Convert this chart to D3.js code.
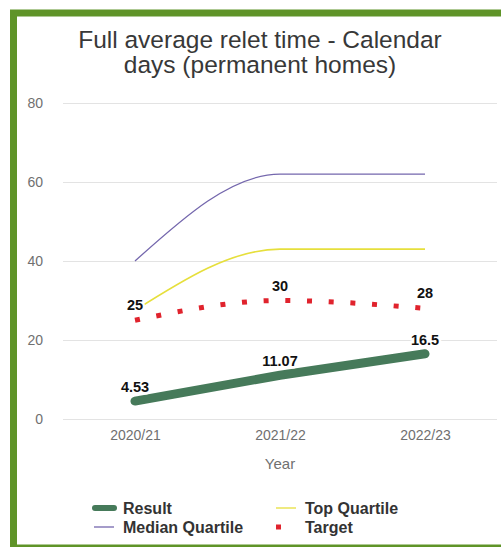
<!DOCTYPE html>
<html>
<head>
<meta charset="utf-8">
<script src="https://cdn.jsdelivr.net/npm/d3@7"></script>
<style>
  html, body { margin: 0; padding: 0; background: #fff; }
  svg { display: block; font-family: "Liberation Sans", Arial, sans-serif; }
</style>
</head>
<body>
<svg id="chart" width="501" height="547"></svg>
<script>
// Financial years on the x axis
const years = ["2020/21", "2021/22", "2022/23"];
// Series values (calendar days)
const result = [4.53, 11.07, 16.5];
const topQuartile = [27.5, 43, 43];
const medianQuartile = [40, 62, 62];
const target = [25, 30, 28];
// Y axis ticks
const yTicks = [0, 20, 40, 60, 80];

const titleLines = ["Full average relet time - Calendar", "days (permanent homes)"];

const colors = {
  frame: "#5f9428",
  result: "#467a5a",
  top: "#e6df3c",
  median: "#7467ad",
  target: "#e0232d",
  grid: "#e3e3e3",
  axisText: "#707070"
};

const svg = d3.select("#chart");

// Outer green frame (runs past the right edge of the page)
svg.append("rect")
  .attr("x", 13.5).attr("y", 13).attr("width", 520).attr("height", 535)
  .attr("fill", "#fff").attr("stroke", colors.frame).attr("stroke-width", 7);

// Title
svg.append("g").selectAll("text").data(titleLines).join("text")
  .attr("x", 260).attr("y", (d, i) => 48 + i * 25)
  .attr("text-anchor", "middle")
  .attr("font-size", 24.5).attr("fill", "#383838")
  .text(d => d);

const x = d3.scalePoint().domain(years).range([135, 425]);
const y = d3.scaleLinear().domain([0, 80]).range([419, 103]);

// Gridlines and y tick labels
const yAxis = d3.axisLeft(y).tickValues(yTicks).tickSize(-434).tickPadding(20);
const gy = svg.append("g").attr("transform", "translate(63,0)").call(yAxis);
gy.select(".domain").remove();
gy.selectAll(".tick line").attr("stroke", colors.grid).attr("stroke-width", 1);
gy.selectAll(".tick text").attr("fill", colors.axisText).attr("font-size", 14)
  .attr("font-family", "Liberation Sans, Arial, sans-serif");

// X axis labels
const xAxis = d3.axisBottom(x).tickSize(0).tickPadding(0);
const gx = svg.append("g").attr("transform", "translate(0,425)").call(xAxis);
gx.select(".domain").remove();
gx.selectAll(".tick text").attr("fill", colors.axisText).attr("font-size", 14)
  .attr("dy", "0.71em").attr("y", 5)
  .attr("font-family", "Liberation Sans, Arial, sans-serif");

svg.append("text").attr("x", 280).attr("y", 469).attr("text-anchor", "middle")
  .attr("font-size", 15).attr("fill", colors.axisText).text("Year");

const curve = d3.line().x((d, i) => x(years[i])).y(d => y(d)).curve(d3.curveMonotoneX);
const straight = d3.line().x((d, i) => x(years[i])).y(d => y(d));

// Median quartile
svg.append("path").attr("d", curve(medianQuartile))
  .attr("fill", "none").attr("stroke", colors.median).attr("stroke-width", 1.3);
// Top quartile
svg.append("path").attr("d", curve(topQuartile))
  .attr("fill", "none").attr("stroke", colors.top).attr("stroke-width", 1.6);
// Target (square dots)
svg.append("path").attr("d", curve(target))
  .attr("fill", "none").attr("stroke", colors.target).attr("stroke-width", 5)
  .attr("stroke-dasharray", "5 16.7");
// Result
svg.append("path").attr("d", straight(result))
  .attr("fill", "none").attr("stroke", colors.result).attr("stroke-width", 9)
  .attr("stroke-linecap", "round").attr("stroke-linejoin", "round");

// Value labels with a white halo behind them
function labels(values, offset) {
  svg.append("g").selectAll("text").data(values).join("text")
    .attr("x", (d, i) => x(years[i]))
    .attr("y", d => y(d) - offset)
    .attr("text-anchor", "middle")
    .attr("font-size", 14.5).attr("font-weight", "bold").attr("fill", "#111")
    .attr("stroke", "#fff").attr("stroke-width", 5).attr("stroke-linejoin", "round")
    .attr("paint-order", "stroke")
    .text(d => d);
}
labels(target, 10);
labels(result, 9);

// Legend
const legend = svg.append("g");
const items = [
  { name: "Result", x: 93, y: 508, type: "thick", color: colors.result },
  { name: "Top Quartile", x: 275, y: 508, type: "line", color: colors.top },
  { name: "Median Quartile", x: 93, y: 527, type: "line", color: colors.median },
  { name: "Target", x: 275, y: 527, type: "square", color: colors.target }
];
items.forEach(it => {
  if (it.type === "thick") {
    legend.append("line").attr("x1", it.x + 2).attr("x2", it.x + 21)
      .attr("y1", it.y).attr("y2", it.y)
      .attr("stroke", it.color).attr("stroke-width", 6).attr("stroke-linecap", "round");
  } else if (it.type === "line") {
    legend.append("line").attr("x1", it.x + 1).attr("x2", it.x + 21)
      .attr("y1", it.y).attr("y2", it.y)
      .attr("stroke", it.color).attr("stroke-width", 1.3);
  } else {
    legend.append("rect").attr("x", it.x + 1).attr("y", it.y - 2.5)
      .attr("width", 5).attr("height", 5).attr("fill", it.color);
  }
  legend.append("text").attr("x", it.x + 30).attr("y", it.y + 5.5)
    .attr("font-size", 16).attr("font-weight", "bold").attr("fill", "#333")
    .text(it.name);
});
</script>
</body>
</html>
